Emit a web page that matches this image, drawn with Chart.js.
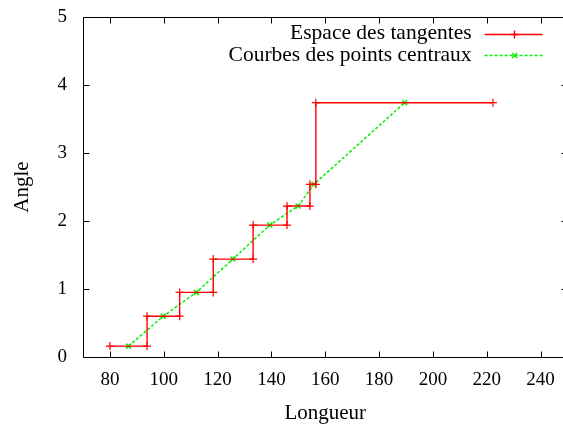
<!DOCTYPE html>
<html><head><meta charset="utf-8">
<script src="https://cdn.jsdelivr.net/npm/chart.js@4"></script>
<style>html,body{margin:0;padding:0;overflow:hidden;background:#fff}canvas{display:block}</style>
</head><body>
<canvas id="c" width="573" height="428" style="width:573px;height:428px"></canvas>
<script>
const seriesNames = ['Espace des tangentes', 'Courbes des points centraux'];
const tangX = [80, 93.8, 93.8, 105.9, 105.9, 118.4, 118.4, 133.2, 133.2, 145.8, 145.8, 154.3, 154.3, 156.5, 156.5, 222.3];
const tangY = [0.16, 0.16, 0.60, 0.60, 0.95, 0.95, 1.44, 1.44, 1.94, 1.94, 2.22, 2.22, 2.54, 2.54, 3.74, 3.74];
const centX = [86.9, 99.8, 112.1, 125.7, 139.4, 149.9, 155.8, 189.5];
const centY = [0.16, 0.60, 0.95, 1.44, 1.94, 2.22, 2.54, 3.74];
const xTicks = [80, 100, 120, 140, 160, 180, 200, 220, 240];
const yTicks = [0, 1, 2, 3, 4, 5];
const xRange = [70, 250];
const yRange = [0, 5];
const xTitle = 'Longueur';
const yTitle = 'Angle';

const FONT = "'Liberation Serif', 'Times New Roman', serif";
const RED = '#ff0000', GREEN = '#00f000';

const frame = {
  id: 'frame',
  afterDatasetsDraw(chart) {
    const {ctx, chartArea: a, scales: {x, y}} = chart;
    ctx.save();
    ctx.strokeStyle = '#000'; ctx.lineWidth = 1;
    ctx.beginPath();
    const l = Math.round(a.left) + 0.5, r = Math.round(a.right) - 0.5;
    const t = Math.round(a.top) + 0.5, b = Math.round(a.bottom) + 0.5;
    ctx.moveTo(l, t); ctx.lineTo(r, t); ctx.lineTo(r, b); ctx.lineTo(l, b); ctx.closePath();
    const L = 6;
    xTicks.forEach(v => {
      const p = Math.round(x.getPixelForValue(v)) + 0.5;
      ctx.moveTo(p, b); ctx.lineTo(p, b - L);
      ctx.moveTo(p, t); ctx.lineTo(p, t + L);
    });
    yTicks.forEach(v => {
      const p = Math.round(y.getPixelForValue(v)) + 0.5;
      ctx.moveTo(l, p); ctx.lineTo(l + L, p);
      ctx.moveTo(r, p); ctx.lineTo(r - L, p);
    });
    ctx.stroke();

    // legend (gnuplot style: text right aligned, sample to the right)
    const textRight = x.getPixelForValue(xTicks[xTicks.length - 1]) - 69;
    const x0 = textRight + 13, x1 = textRight + 71, xm = (x0 + x1) / 2;
    const rows = [a.top + 16.5, a.top + 38];
    ctx.font = '21.5px ' + FONT;
    ctx.textAlign = 'right'; ctx.textBaseline = 'middle'; ctx.fillStyle = '#000';
    chart.data.datasets.forEach((ds, i) => {
      const yy = Math.round(rows[i]) + 0.5;
      ctx.fillText(ds.label, textRight, rows[i]);
      ctx.strokeStyle = ds.borderColor; ctx.lineWidth = ds.borderWidth;
      ctx.setLineDash(ds.borderDash || []);
      ctx.beginPath(); ctx.moveTo(x0, yy); ctx.lineTo(x1, yy); ctx.stroke();
      ctx.setLineDash([]);
      Chart.helpers.drawPoint(ctx, {pointStyle: ds.pointStyle, radius: ds.pointRadius, rotation: 0, borderWidth: ds.pointBorderWidth}, Math.round(xm) + 0.5, yy);
    });
    ctx.restore();
  }
};

function noPad(s) { s.paddingLeft = 0; s.paddingRight = 0; s.paddingTop = 0; s.paddingBottom = 0; }

new Chart(document.getElementById('c'), {
  type: 'scatter',
  data: {
    datasets: [
      {
        label: seriesNames[0],
        data: tangX.map((v, i) => ({x: v, y: tangY[i]})),
        showLine: true, borderColor: RED, backgroundColor: RED, borderWidth: 1.4,
        pointStyle: 'cross', pointRadius: 4, pointBorderWidth: 1.2, pointBorderColor: RED
      },
      {
        label: seriesNames[1],
        data: centX.map((v, i) => ({x: v, y: centY[i]})),
        showLine: true, borderColor: GREEN, backgroundColor: GREEN, borderWidth: 1.5,
        borderDash: [3, 2],
        pointStyle: 'crossRot', pointRadius: 3.5, pointBorderWidth: 1.5, pointBorderColor: GREEN
      }
    ]
  },
  options: {
    responsive: false, animation: false, devicePixelRatio: 1,
    layout: {padding: {top: 17, right: 0, left: 0, bottom: 0}},
    plugins: {legend: {display: false}, tooltip: {enabled: false}},
    scales: {
      x: {
        type: 'linear', min: xRange[0], max: xRange[1],
        afterBuildTicks: s => { s.ticks = xTicks.map(v => ({value: v})); },
        afterFit: s => { s.height = 71; noPad(s); },
        grid: {display: false, drawTicks: false}, border: {display: false},
        ticks: {color: '#000', padding: 12, font: {family: FONT, size: 19}, maxRotation: 0, autoSkip: false},
        title: {display: true, text: xTitle, color: '#000', font: {family: FONT, size: 21}, padding: {top: 0, bottom: 2}}
      },
      y: {
        type: 'linear', min: yRange[0], max: yRange[1],
        afterBuildTicks: s => { s.ticks = yTicks.map(v => ({value: v})); },
        afterFit: s => { s.width = 83; noPad(s); },
        grid: {display: false, drawTicks: false}, border: {display: false},
        ticks: {color: '#000', padding: 16, font: {family: FONT, size: 19}},
        title: {display: true, text: yTitle, color: '#000', font: {family: FONT, size: 21}, padding: {top: 10, bottom: 0}}
      }
    }
  },
  plugins: [frame]
});
</script>
</body></html>
